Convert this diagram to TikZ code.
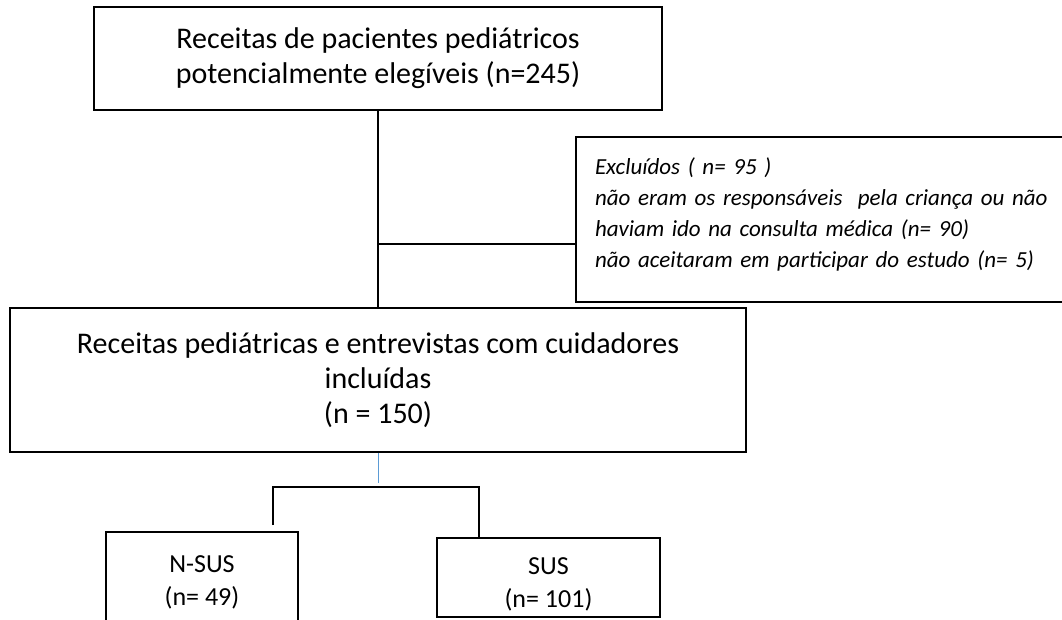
\documentclass[tikz,border=0pt]{standalone}
\usepackage{fontspec}
\setmainfont{Carlito}
\definecolor{stemblue}{RGB}{91,155,213}
\begin{document}
\begin{tikzpicture}[x=1pt, y=-1pt,
        box/.style={draw, line width=1.6pt, align=center, inner sep=0pt},
        big/.style={font=\fontsize{30}{35}\selectfont},
        mid/.style={font=\fontsize{26}{33}\selectfont},
        note/.style={font=\itshape\fontsize{23}{31}\selectfont},
        link/.style={line width=1.6pt}]
        \useasboundingbox (0,0) rectangle (1062,620);
        \node[box, big, minimum width=568pt, minimum height=103pt] (pot) at (378,58.5) {Receitas de pacientes pediátricos\\potencialmente elegíveis (n=245)};
        \node[box, note, align=left, inner xsep=19pt, text width=500pt, minimum height=165pt, text height=23pt, text depth=113pt] (excl) at (845,219.5) {Excluídos ( n= 95 )\\não eram os responsáveis~ pela criança ou não\\haviam ido na consulta médica (n= 90)\\não aceitaram em participar do estudo (n= 5)};
        \node[box, big, minimum width=736pt, minimum height=144pt] (incl) at (378,380) {Receitas pediátricas e entrevistas com cuidadores\\incluídas\\(n = 150)};
        \node[box, mid, minimum width=192pt, minimum height=94pt, text height=58pt, text depth=6pt] (nsus) at (202,579) {N-SUS\\(n= 49)};
        \node[box, mid, minimum width=223pt, minimum height=79pt, text height=66pt, text depth=6pt] (sus) at (548.5,577.5) {SUS\\(n= 101)};
        \coordinate (split) at (378,244);
        \coordinate (stem) at (378,483);
        \coordinate (forkL) at (273,487);
        \coordinate (forkR) at (479,487);
        \coordinate (stubL) at (273,525);
        % spine from eligible to included
        \draw[link] (pot) -- (incl);
        % branch to the excluded
        \draw[link] (split) -- (split -| excl.west);
        % thin stem under included
        \draw[stemblue, line width=1pt] (incl.south) -- (stem);
        % fork to the two groups
        \draw[link] (stubL) -- (forkL) -- (forkR) -- (sus.north -| forkR);
\end{tikzpicture}
\end{document}
